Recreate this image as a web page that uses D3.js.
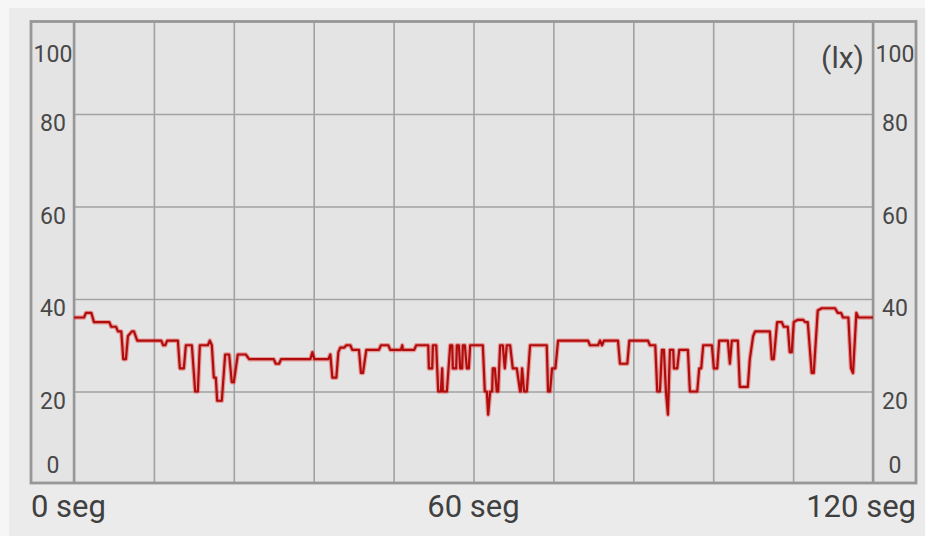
<!DOCTYPE html>
<html>
<head>
<meta charset="utf-8">
<script src="https://cdn.jsdelivr.net/npm/d3@7"></script>
<style>
html,body{margin:0;padding:0;background:#f6f6f6;}
svg{display:block;font-family:Roboto,"Noto Sans",sans-serif;}
</style>
</head>
<body>
<svg id="chart" width="925" height="536"></svg>
<script>
// ---- data ----
const seconds = [0,1.5,1.8,2.6,3.0,5.3,5.6,6.3,6.6,7.1,7.4,7.8,8.1,8.7,9.0,9.5,13.1,13.4,13.7,14.0,15.6,15.9,16.5,16.8,17.7,18.2,18.6,18.9,20.1,20.4,20.7,21.0,21.3,21.5,22.2,22.7,23.3,23.7,24.0,24.6,25.8,26.3,
 30.0,30.3,30.8,31.1,35.5,35.8,36.1,38.2,38.5,38.8,39.4,39.7,40.0,40.6,40.9,41.5,41.8,42.8,43.1,43.4,43.9,45.8,46.1,47.2,47.5,49.1,49.3,49.4,51.1,51.4,53.2,53.3,53.8,53.9,54.4,54.7,55.1,55.3,55.4,56.0,56.5,56.8,56.9,57.4,57.5,57.8,58.0,58.3,58.4,58.7,59.0,59.3,59.5,61.4,61.7,62.0,62.2,62.5,62.8,62.9,63.2,63.5,63.7,64.0,64.4,64.7,65.0,65.5,65.9,66.5,67.0,67.1,67.3,67.6,68.0,68.5,71.0,71.2,71.5,71.8,72.3,72.7,
 77.2,77.5,78.7,79.0,79.3,79.6,81.7,82.0,83.1,83.4,86.2,86.5,87.3,87.6,88.0,88.3,88.6,88.9,89.2,89.5,90.0,90.1,90.6,90.9,92.2,92.5,93.6,93.9,94.2,94.5,95.8,96.1,96.6,96.9,98.2,98.5,98.8,99.7,100.0,101.2,101.5,102.0,102.3,104.5,104.8,105.1,105.6,106.3,106.6,107.2,107.5,107.8,108.1,108.7,109.5,109.8,110.2,110.8,111.1,111.7,112.3,114.3,114.7,115.2,115.5,116.3,116.7,117.0,117.5,117.8,120];
const lux = [36,36,37,37,35,35,34,34,33,33,27,27,32,33,33,31,31,30,30,31,31,25,25,30,30,20,20,30,30,31,30,23,23,18,18,28,28,22,22,28,28,27,
 27,26,26,27,27,28.5,27,27,28,23,23,28.5,29.5,29.5,30,30,29,29,24,24,29,29,30,30,29,29,30,29,29,30,30,25,25,30,30,20,20,25,20,20,30,30,25,25,30,30,25,25,30,30,25,25,30,30,20,20,15,20,20,25,25,20,20,30,30,25,30,30,25,25,20,20,25,20,20,30,30,20,20,25,25,31,
 31,30,30,31,30,31,31,26,26,31,31,30,30,20,20,29,29,20,15,29,29,25,25,29,29,20,20,25,25,30,30,25,25,31,31,26,31,31,21,21,27,32,33,33,27,27,35,35,34,34,28.5,28.5,35,35.5,35.5,35,35,24,24,37.5,38,38,37,37,36,36,25,24,37,36,36];
const yTicks = [0,20,40,60,80,100];
const xTicks = [0,12,24,36,48,60,72,84,96,108,120];
const xLabels = [{t:0,text:"0 seg"},{t:60,text:"60 seg"},{t:120,text:"120 seg"}];
const unitLabel = "(lx)";

// ---- layout ----
const svg = d3.select("#chart");
const W = 925, H = 536;
const plot = {left:74, right:873, top:21.5, bottom:484};
const frame = {left:31, right:916, top:21.5, bottom:483};

svg.append("rect").attr("x",9).attr("y",8).attr("width",W-9).attr("height",H-8).attr("fill","#ebebeb");
svg.append("rect").attr("x",frame.left).attr("y",frame.top)
  .attr("width",frame.right-frame.left).attr("height",frame.bottom-frame.top).attr("fill","#e4e4e4");

const x = d3.scaleLinear().domain([0,120]).range([plot.left, plot.right]);
const y = d3.scaleLinear().domain([0,100]).range([plot.bottom, plot.top]);

// vertical grid
const gx = svg.append("g").attr("transform",`translate(0,${frame.bottom})`)
  .call(d3.axisBottom(x).tickValues(xTicks).tickSize(-(frame.bottom-frame.top)).tickFormat(""));
gx.select(".domain").remove();
gx.selectAll(".tick line").attr("stroke","#a2a2a2").attr("stroke-width",1.6);

// horizontal grid
const gy = svg.append("g").attr("transform",`translate(${plot.left},0)`)
  .call(d3.axisLeft(y).tickValues(yTicks.filter(v=>v>0 && v<100)).tickSize(-(plot.right-plot.left)).tickFormat(""));
gy.select(".domain").remove();
gy.selectAll(".tick line").attr("stroke","#a2a2a2").attr("stroke-width",1.6);

// frame and axis lines
svg.append("rect").attr("x",frame.left).attr("y",frame.top)
  .attr("width",frame.right-frame.left).attr("height",frame.bottom-frame.top)
  .attr("fill","none").attr("stroke","#979797").attr("stroke-width",2.8);
[plot.left, plot.right].forEach(px=>{
  svg.append("line").attr("x1",px).attr("x2",px).attr("y1",frame.top).attr("y2",frame.bottom)
    .attr("stroke","#979797").attr("stroke-width",2.5);
});

// y labels (both sides)
const labY = v => Math.max(62, Math.min(473, y(v)+17));
svg.append("g").selectAll("text").data(yTicks).join("text")
  .attr("x",53).attr("y",labY).attr("text-anchor","middle")
  .attr("font-size",23).attr("fill","#484848").text(d=>d);
svg.append("g").selectAll("text").data(yTicks).join("text")
  .attr("x",895).attr("y",labY).attr("text-anchor","middle")
  .attr("font-size",23).attr("fill","#484848").text(d=>d);

// unit label
svg.append("text").attr("x",864).attr("y",68).attr("text-anchor","end")
  .attr("font-size",30).attr("fill","#464646").text(unitLabel);

// x labels
svg.append("g").selectAll("text").data(xLabels).join("text")
  .attr("x",d=> d.t===0 ? frame.left : d.t===120 ? frame.right : x(d.t))
  .attr("y",517)
  .attr("text-anchor",d=> d.t===0 ? "start" : d.t===120 ? "end" : "middle")
  .attr("font-size",31).attr("fill","#404040").text(d=>d.text);

// line
const pts = seconds.map((t,i)=>[t,lux[i]]);
const line = d3.line().x(d=>x(d[0])).y(d=>y(d[1]));
svg.append("path").datum(pts).attr("d",line).attr("fill","none")
  .attr("stroke","#e63b3b").attr("stroke-opacity",0.45).attr("stroke-width",4.5).attr("stroke-linejoin","round");
svg.append("path").datum(pts).attr("d",line).attr("fill","none")
  .attr("stroke","#b00c0c").attr("stroke-width",2.2).attr("stroke-linejoin","round");
</script>
</body>
</html>
